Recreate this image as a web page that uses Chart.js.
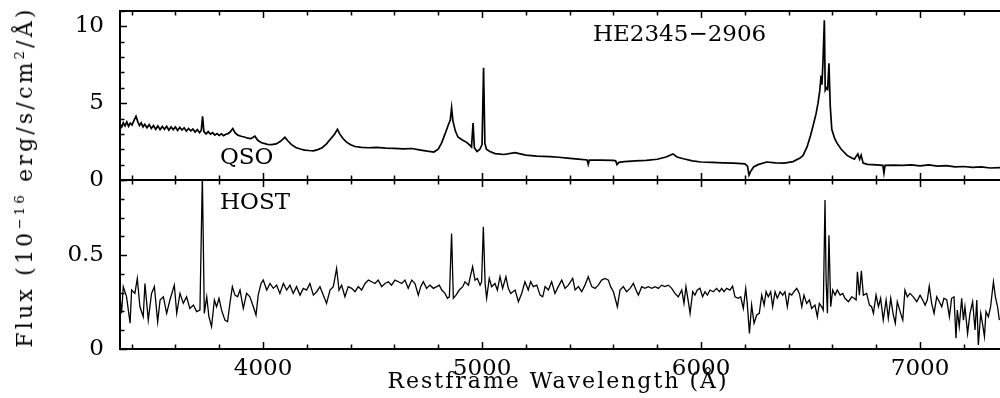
<!DOCTYPE html>
<html><head><meta charset="utf-8">
<script src="https://cdn.jsdelivr.net/npm/chart.js@4/dist/chart.umd.min.js"></script>
<style>
html,body{margin:0;padding:0;background:#fff;overflow:hidden;width:1000px;height:398px;}
canvas{position:absolute;left:0;}
#c1{top:0;}
#c2{top:180px;}
.t{position:absolute;font-family:'DejaVu Serif',serif;color:#000;white-space:nowrap;line-height:1;}
.t sup{font-size:0.6em;vertical-align:0.6em;line-height:0;}
</style></head><body>
<canvas id="c1" width="1000" height="200"></canvas>
<canvas id="c2" width="1000" height="218"></canvas>
<div class="t" style="left:220px;top:145px;font-size:23px;">QSO</div>
<div class="t" style="left:220px;top:190px;font-size:23px;">HOST</div>
<div class="t" style="left:593px;top:22px;font-size:23px;">HE2345−2906</div>
<div class="t" style="left:558px;top:370px;font-size:22px;letter-spacing:2px;transform:translateX(-50%);">Restframe Wavelength (Å)</div>
<div class="t" style="left:25px;top:177px;font-size:22px;letter-spacing:3.2px;transform:translate(-50%,-50%) rotate(-90deg);">Flux (10<sup>−16</sup> erg/s/cm<sup>2</sup>/Å)</div>
<script>
// ---- data ----
const xRange = [3347, 7365];
const xTicks = [4000, 5000, 6000, 7000];
const qsoYTicks = [0, 5, 10];
const hostYTicks = [0, 0.5];
const qsoYRange = [0, 11];
const hostYRange = [0, 0.9];

const qsoWave = [
3347,3355,3362,3370,3378,3386,3394,3402,3410,3420,
3428,3436,3444,3452,3460,3470,3480,3490,3500,3510,
3520,3530,3540,3550,3560,3570,3580,3590,3600,3610,
3620,3630,3640,3650,3660,3670,3680,3690,3700,3710,
3718,3724,3730,3740,3750,3760,3770,3780,3790,3800,
3810,3820,3830,3840,3850,3862,3872,3885,3900,3915,
3930,3945,3963,3975,3990,4005,4020,4040,4060,4080,
4100,4115,4130,4150,4170,4190,4210,4230,4250,4270,
4290,4310,4325,4340,4350,4365,4380,4400,4420,4450,
4480,4520,4560,4600,4640,4680,4720,4750,4780,4800,
4815,4830,4845,4855,4861,4867,4878,4890,4910,4930,
4945,4952,4959,4965,4977,4990,5000,5007,5013,5020,
5036,5060,5100,5150,5200,5250,5310,5350,5390,5440,
5480,5485,5490,5540,5598,5610,5616,5625,5650,5700,
5750,5800,5840,5872,5890,5920,5960,6000,6050,6100,
6150,6200,6212,6219,6226,6240,6260,6300,6340,6380,
6420,6452,6466,6484,6500,6511,6525,6534,6542,6548,
6552,6557,6563,6567,6572,6578,6584,6590,6597,6610,
6621,6640,6667,6680,6700,6716,6724,6731,6740,6760,
6800,6830,6835,6840,6880,6920,6960,7000,7040,7080,
7120,7160,7200,7240,7280,7320,7365];
const qsoFlux = [
3.65,3.45,3.72,3.52,3.78,3.50,3.70,3.58,3.85,4.15,
3.80,3.55,3.72,3.45,3.62,3.40,3.60,3.35,3.55,3.30,
3.52,3.28,3.48,3.30,3.50,3.25,3.45,3.28,3.45,3.22,
3.42,3.25,3.40,3.18,3.35,3.20,3.32,3.12,3.28,3.08,
3.22,4.15,3.15,3.00,3.15,2.98,3.08,2.92,3.02,2.90,
3.00,2.88,2.98,3.02,3.12,3.35,3.08,2.92,2.85,2.80,
2.72,2.70,2.85,2.60,2.45,2.38,2.32,2.30,2.35,2.52,
2.78,2.52,2.30,2.12,2.02,1.95,1.92,1.90,1.98,2.10,
2.35,2.70,2.95,3.30,3.00,2.70,2.48,2.30,2.18,2.12,
2.10,2.12,2.08,2.06,2.02,2.05,1.95,1.88,1.82,2.00,
2.40,2.95,3.55,3.90,4.70,3.85,3.20,2.80,2.60,2.45,
2.25,2.15,3.70,2.10,1.85,2.00,2.30,7.30,2.40,2.00,
1.85,1.72,1.66,1.78,1.62,1.56,1.52,1.48,1.43,1.36,
1.30,1.02,1.30,1.30,1.28,1.25,1.00,1.15,1.20,1.24,
1.28,1.35,1.50,1.70,1.50,1.38,1.25,1.17,1.15,1.12,
1.10,1.05,0.90,0.32,0.55,0.85,1.00,1.17,1.12,1.10,
1.20,1.43,1.60,2.15,2.90,3.50,4.30,5.00,5.80,6.80,
6.20,7.80,10.40,5.85,6.00,5.90,7.60,4.80,3.30,2.70,
2.40,2.00,1.60,1.50,1.35,1.70,1.35,1.62,1.10,1.02,
0.98,0.95,0.45,0.95,0.97,0.95,0.98,0.92,0.98,0.90,
0.93,0.85,0.88,0.82,0.86,0.78,0.80];

const hostWave = [
3347,3354,3362,3377,3393,3400,3415,3426,3438,3453,
3461,3476,3491,3504,3519,3530,3545,3560,3575,3595,
3606,3621,3636,3651,3666,3682,3697,3712,3723,3732,
3743,3753,3765,3778,3788,3799,3811,3826,3838,3849,
3860,3872,3884,3895,3910,3925,3940,3956,3968,3978,
3991,4001,4017,4032,4047,4062,4077,4093,4108,4123,
4138,4153,4169,4184,4199,4214,4230,4245,4260,4275,
4290,4306,4321,4336,4347,4359,4374,4389,4405,4420,
4435,4450,4466,4481,4496,4511,4526,4542,4557,4572,
4587,4602,4618,4633,4648,4663,4679,4694,4709,4720,
4732,4747,4762,4778,4793,4805,4816,4831,4842,4851,
4861,4869,4881,4896,4912,4922,4938,4948,4957,4968,
4979,4991,4998,5006,5014,5021,5033,5044,5059,5070,
5082,5094,5109,5120,5131,5151,5166,5181,5196,5211,
5222,5234,5250,5265,5277,5288,5303,5318,5333,5348,
5364,5379,5394,5414,5425,5440,5455,5470,5485,5501,
5516,5531,5546,5562,5577,5587,5600,5618,5630,5645,
5660,5676,5691,5703,5714,5729,5744,5759,5775,5790,
5805,5820,5835,5851,5866,5881,5896,5912,5922,5931,
5942,5950,5962,5972,5983,5995,6007,6018,6029,6041,
6056,6071,6084,6094,6105,6117,6132,6144,6155,6170,
6181,6193,6204,6211,6221,6231,6242,6254,6266,6277,
6288,6297,6307,6318,6327,6338,6348,6361,6373,6383,
6394,6403,6414,6424,6437,6449,6460,6470,6482,6495,
6505,6520,6531,6540,6551,6558,6566,6571,6577,6584,
6592,6601,6612,6622,6635,6647,6657,6673,6688,6699,
6708,6714,6723,6732,6741,6756,6769,6779,6787,6799,
6810,6820,6832,6845,6855,6866,6878,6887,6896,6909,
6921,6931,6942,6954,6969,6985,7000,7012,7023,7033,
7042,7053,7064,7076,7088,7099,7109,7122,7134,7144,
7155,7164,7170,7179,7190,7198,7205,7217,7228,7240,
7251,7259,7266,7277,7286,7294,7301,7312,7322,7335,
7344,7354,7362];
const hostFlux = [
0.278,0.190,0.332,0.278,0.137,0.314,0.296,0.376,0.225,0.172,
0.349,0.154,0.296,0.332,0.145,0.261,0.278,0.190,0.261,0.340,
0.190,0.296,0.243,0.278,0.216,0.234,0.199,0.207,0.920,0.190,
0.278,0.172,0.119,0.261,0.225,0.270,0.207,0.154,0.145,0.243,
0.332,0.287,0.278,0.314,0.216,0.296,0.278,0.225,0.181,0.287,
0.349,0.367,0.314,0.349,0.323,0.340,0.296,0.349,0.314,0.340,
0.296,0.332,0.287,0.323,0.314,0.349,0.287,0.305,0.332,0.287,
0.243,0.314,0.332,0.429,0.314,0.340,0.278,0.332,0.323,0.305,
0.332,0.314,0.349,0.367,0.358,0.349,0.367,0.332,0.349,0.358,
0.340,0.367,0.358,0.349,0.367,0.323,0.367,0.349,0.287,0.332,
0.358,0.323,0.340,0.323,0.332,0.340,0.314,0.296,0.270,0.278,
0.615,0.270,0.287,0.314,0.332,0.358,0.340,0.394,0.438,0.367,
0.376,0.340,0.358,0.651,0.349,0.270,0.376,0.332,0.349,0.314,
0.385,0.323,0.385,0.323,0.296,0.314,0.252,0.296,0.358,0.314,
0.358,0.332,0.340,0.287,0.278,0.332,0.314,0.358,0.296,0.332,
0.367,0.323,0.340,0.376,0.314,0.332,0.305,0.340,0.385,0.332,
0.323,0.340,0.367,0.376,0.367,0.332,0.305,0.225,0.314,0.332,
0.305,0.323,0.349,0.314,0.287,0.332,0.323,0.332,0.323,0.332,
0.323,0.340,0.332,0.340,0.323,0.296,0.278,0.314,0.243,0.332,
0.252,0.190,0.305,0.287,0.314,0.323,0.278,0.305,0.287,0.314,
0.305,0.323,0.305,0.323,0.305,0.323,0.314,0.335,0.278,0.270,
0.278,0.216,0.323,0.243,0.083,0.234,0.137,0.181,0.190,0.287,
0.234,0.305,0.278,0.305,0.225,0.305,0.270,0.305,0.287,0.305,
0.225,0.296,0.287,0.305,0.323,0.296,0.225,0.287,0.243,0.261,
0.216,0.234,0.172,0.243,0.225,0.207,0.793,0.367,0.190,0.606,
0.225,0.314,0.287,0.314,0.287,0.296,0.270,0.252,0.278,0.270,
0.261,0.411,0.287,0.417,0.287,0.296,0.234,0.225,0.190,0.287,
0.225,0.270,0.154,0.261,0.163,0.270,0.181,0.137,0.252,0.199,
0.154,0.314,0.278,0.296,0.278,0.252,0.287,0.261,0.234,0.261,
0.335,0.243,0.190,0.278,0.252,0.225,0.270,0.261,0.172,0.270,
0.278,0.057,0.207,0.119,0.270,0.154,0.225,0.083,0.190,0.252,
0.101,0.261,0.021,0.190,0.128,0.066,0.199,0.172,0.225,0.358,
0.278,0.225,0.154];

// ---- drawing ----
const FONT = "'DejaVu Serif', serif";
const toPts = (w, f) => w.map((v, i) => ({x: v, y: f[i]}));

const framePlugin = {
  id: 'frame',
  afterDraw(chart, args, o) {
    const {ctx, chartArea: a, scales} = chart;
    const xs = scales.x, ys = scales.y;
    ctx.save();
    ctx.strokeStyle = '#000';
    ctx.lineWidth = 2;
    ctx.beginPath();
    ctx.moveTo(a.right + 5, a.top); ctx.lineTo(a.left, a.top);
    ctx.lineTo(a.left, a.bottom); ctx.lineTo(a.right + 5, a.bottom);
    ctx.stroke();
    ctx.lineWidth = 1.5;
    ctx.beginPath();
    for (let v = 3400; v <= 7400; v += 200) {
      if (v < xs.min || v > xs.max) continue;
      const px = Math.round(xs.getPixelForValue(v)) + 0.5;
      const L = (v % 1000 === 0) ? 7 : 4.5;
      ctx.moveTo(px, a.top); ctx.lineTo(px, a.top + L);
      ctx.moveTo(px, a.bottom); ctx.lineTo(px, a.bottom - L);
    }
    const n = Math.round((ys.max - ys.min) / o.minor);
    for (let i = 0; i <= n; i++) {
      const v = ys.min + i * o.minor;
      const r = v / o.major;
      const L = Math.abs(r - Math.round(r)) < 1e-6 ? 7 : 4.5;
      const py = Math.round(ys.getPixelForValue(v)) + 0.5;
      ctx.moveTo(a.left, py); ctx.lineTo(a.left + L, py);
    }
    ctx.stroke();
    ctx.restore();
  }
};

function makeChart(id, pts, yr, yt, minor, major, showX, lw, pad) {
  return new Chart(document.getElementById(id), {
    type: 'line',
    data: {datasets: [{data: pts, borderColor: '#000', borderWidth: lw, pointRadius: 0, tension: 0, fill: false, clip: 0}]},
    options: {
      responsive: false, animation: false, devicePixelRatio: 1,
      parsing: false, normalized: true,
      layout: {padding: pad},
      plugins: {legend: {display: false}, tooltip: {enabled: false}, frame: {minor, major}},
      scales: {
        x: {
          type: 'linear', min: xRange[0], max: xRange[1], display: showX,
          afterFit(s) { s.height = showX ? 49 : 0; s.paddingLeft = 0; s.paddingRight = 0; },
          afterBuildTicks(s) { s.ticks = xTicks.map(v => ({value: v})); },
          grid: {display: false, drawTicks: false}, border: {display: false},
          ticks: {padding: 6, color: '#000', font: {family: FONT, size: 23}, callback: v => String(v), autoSkip: false, maxRotation: 0}
        },
        y: {
          type: 'linear', min: yr[0], max: yr[1],
          afterFit(s) { s.width = 120; s.paddingTop = 0; s.paddingBottom = 0; },
          afterBuildTicks(s) { s.ticks = yt.map(v => ({value: v})); },
          grid: {display: false, drawTicks: false}, border: {display: false},
          ticks: {padding: 16, color: '#000', font: {family: FONT, size: 23}, callback: v => String(v), autoSkip: false}
        }
      }
    },
    plugins: [framePlugin]
  });
}

makeChart('c1', toPts(qsoWave, qsoFlux), qsoYRange, qsoYTicks, 1, 5, false, 1.7, {top: 11, bottom: 20, left: 0, right: 0});
makeChart('c2', toPts(hostWave, hostFlux), hostYRange, hostYTicks, 0.1, 0.5, true, 1.3, {top: 0, bottom: 0, left: 0, right: 0});
</script>
</body></html>
